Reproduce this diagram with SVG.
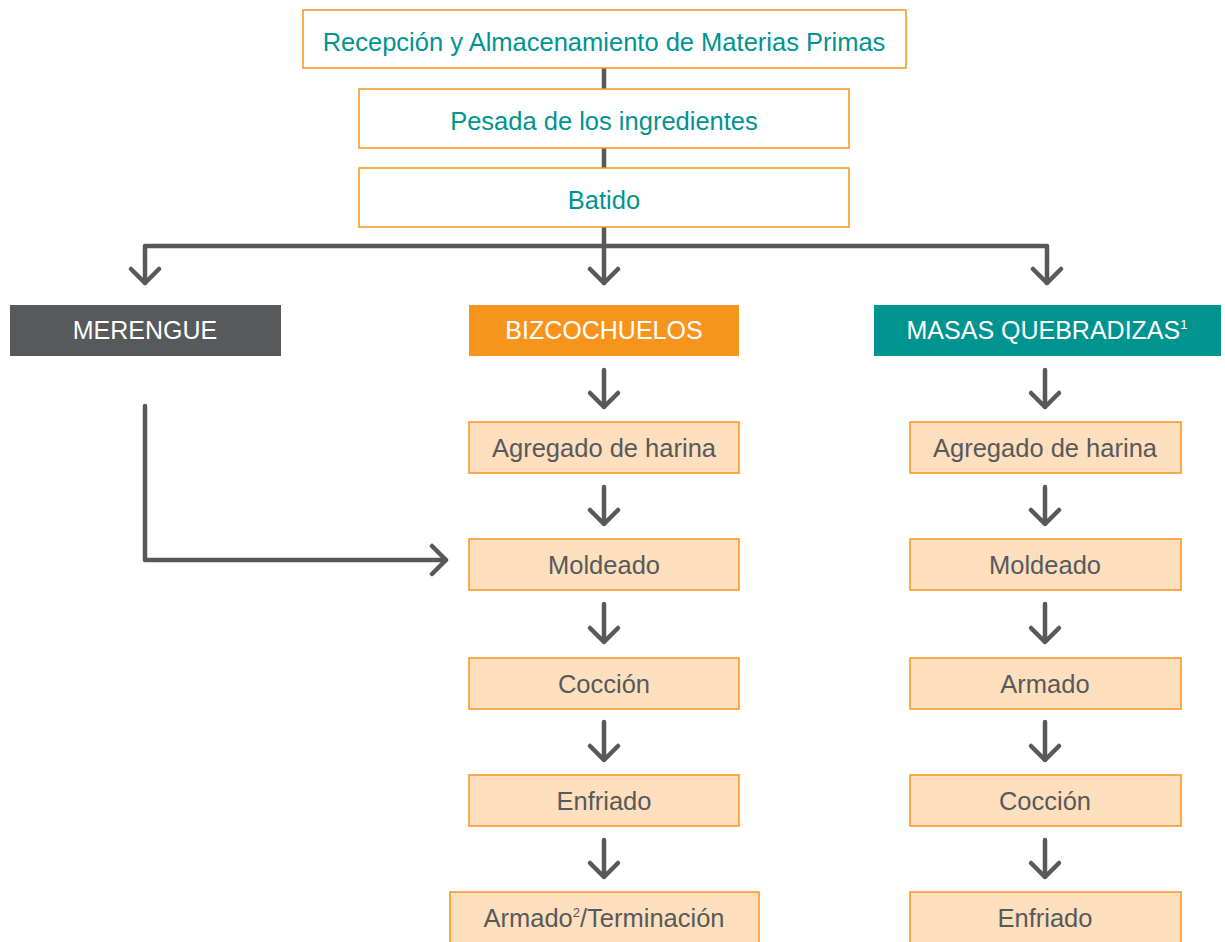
<svg xmlns="http://www.w3.org/2000/svg" width="1225" height="942" viewBox="0 0 1225 942">
<style>
  .top{fill:#ffffff;stroke:#f7941d;stroke-width:1.5}
  .step{fill:#fddfbe;stroke:#f7941d;stroke-width:1.5}
  .tt{font-family:"Liberation Sans",Arial,sans-serif;font-size:25.5px;fill:#009490;text-anchor:middle}
  .st{font-family:"Liberation Sans",Arial,sans-serif;font-size:25.5px;fill:#58595b;text-anchor:middle}
  .ht{font-family:"Liberation Sans",Arial,sans-serif;font-size:25px;fill:#ffffff;text-anchor:middle}
  .sup{font-size:13px}
  .ln{fill:none;stroke:#58595b;stroke-width:4.5;stroke-linecap:round;stroke-linejoin:round}
  .ln2{fill:none;stroke:#58595b;stroke-width:4.5}
</style>
<rect width="1225" height="942" fill="#ffffff"/>
<g id="connectors">
  <path class="ln2" d="M604 68V89M604 148V168M604 227V246"/>
  <path class="ln" d="M145 283V246H1047V283M604 246V283"/>
  <path class="ln" d="M131 269L145 283L159 269M590 269L604 283L618 269M1033 269L1047 283L1061 269"/>
  <path class="ln" d="M604 370V407M590 393L604 407L618 393"/>
  <path class="ln" d="M604 487V524M590 510L604 524L618 510"/>
  <path class="ln" d="M604 604V642M590 628L604 642L618 628"/>
  <path class="ln" d="M604 722V760M590 746L604 760L618 746"/>
  <path class="ln" d="M604 840V877M590 863L604 877L618 863"/>
  <path class="ln" d="M1045 370V407M1031 393L1045 407L1059 393"/>
  <path class="ln" d="M1045 487V524M1031 510L1045 524L1059 510"/>
  <path class="ln" d="M1045 604V642M1031 628L1045 642L1059 628"/>
  <path class="ln" d="M1045 722V760M1031 746L1045 760L1059 746"/>
  <path class="ln" d="M1045 840V877M1031 863L1045 877L1059 863"/>
  <path class="ln" d="M145 406V560H446M432 546L446 560L432 574"/>
</g>
<g id="recepcion"><rect class="top" x="303" y="10" width="603" height="58"/><text class="tt" x="604" y="51">Recepción y Almacenamiento de Materias Primas</text></g>
<g id="pesada"><rect class="top" x="359" y="89" width="490" height="59"/><text class="tt" x="604" y="130">Pesada de los ingredientes</text></g>
<g id="batido"><rect class="top" x="359" y="168" width="490" height="59"/><text class="tt" x="604" y="209">Batido</text></g>
<g id="merengue"><rect x="10" y="305" width="271" height="51" fill="#58595b"/><text class="ht" x="145" y="339">MERENGUE</text></g>
<g id="bizcochuelos"><rect x="469" y="305" width="270" height="51" fill="#f7941d"/><text class="ht" x="604" y="339">BIZCOCHUELOS</text></g>
<g id="masas"><rect x="874" y="305" width="347" height="51" fill="#009490"/><text class="ht" x="1047" y="339">MASAS QUEBRADIZAS<tspan class="sup" dy="-10">1</tspan></text></g>
<g id="b-agregado"><rect class="step" x="469" y="422" width="270" height="51"/><text class="st" x="604" y="457">Agregado de harina</text></g>
<g id="b-moldeado"><rect class="step" x="469" y="539" width="270" height="51"/><text class="st" x="604" y="574">Moldeado</text></g>
<g id="b-coccion"><rect class="step" x="469" y="658" width="270" height="51"/><text class="st" x="604" y="693">Cocción</text></g>
<g id="b-enfriado"><rect class="step" x="469" y="775" width="270" height="51"/><text class="st" x="604" y="810">Enfriado</text></g>
<g id="b-armado"><rect class="step" x="450" y="892" width="309" height="60"/><text class="st" x="604" y="927">Armado<tspan class="sup" dy="-10">2</tspan><tspan dy="10">/Terminación</tspan></text></g>
<g id="m-agregado"><rect class="step" x="910" y="422" width="271" height="51"/><text class="st" x="1045" y="457">Agregado de harina</text></g>
<g id="m-moldeado"><rect class="step" x="910" y="539" width="271" height="51"/><text class="st" x="1045" y="574">Moldeado</text></g>
<g id="m-armado"><rect class="step" x="910" y="658" width="271" height="51"/><text class="st" x="1045" y="693">Armado</text></g>
<g id="m-coccion"><rect class="step" x="910" y="775" width="271" height="51"/><text class="st" x="1045" y="810">Cocción</text></g>
<g id="m-enfriado"><rect class="step" x="910" y="892" width="271" height="60"/><text class="st" x="1045" y="927">Enfriado</text></g>
</svg>
